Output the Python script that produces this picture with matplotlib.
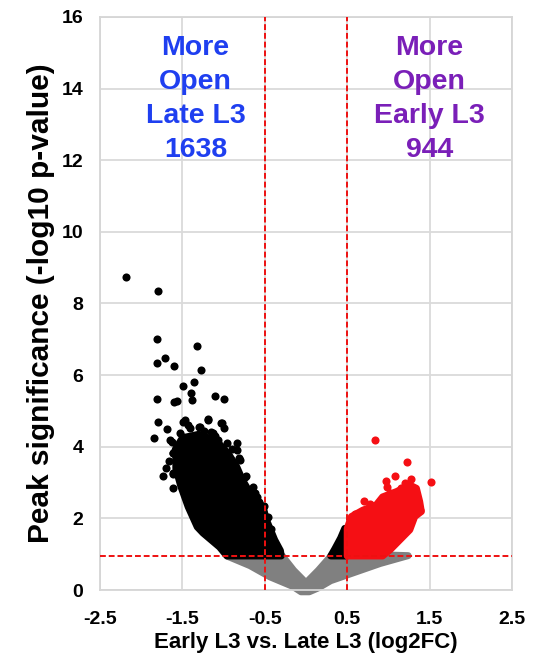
import matplotlib
matplotlib.use("Agg")
from matplotlib import pyplot as plt
from matplotlib.patches import Polygon

plt.rcParams['font.family'] = ['Liberation Sans', 'DejaVu Sans']
plt.rcParams['font.weight'] = 'bold'

# thresholds drawn as red dashed lines
fc_cut = [-0.5, 0.5]
sig_cut = 0.94

# outline of the dense grey (non significant) cloud
grey_x = [-0.95, -0.68, -0.44, -0.16, -0.06, 0.04, 0.15, 0.30, 0.60, 0.90,
          1.24, 0.33, 0.15, 0.0, -0.15, -0.29]
grey_y = [0.94, 0.68, 0.37, 0.10, -0.05, -0.05, 0.06, 0.26, 0.50, 0.74,
          0.96, 1.02, 0.55, 0.20, 0.55, 0.96]

# outline of the dense black cloud (more open late L3)
black_x = [-0.96, -1.05, -1.25, -1.32, -1.43, -1.52, -1.58, -1.58, -1.50,
           -1.30, -1.08, -0.94, -0.84, -0.77, -0.65, -0.52, -0.48, -0.38,
           -0.31, -0.30]
black_y = [0.95, 1.20, 1.59, 1.76, 2.32, 2.90, 3.40, 3.95, 4.25,
           4.35, 4.15, 3.80, 3.44, 3.07, 2.60, 2.32, 1.96, 1.40,
           1.10, 0.95]

# small black group just left of +0.5
black2_x = [0.30, 0.35, 0.42, 0.47, 0.50, 0.50]
black2_y = [0.95, 1.15, 1.45, 1.72, 1.72, 0.95]

# outline of the dense red cloud (more open early L3)
red_x = [0.50, 0.50, 0.55, 0.69, 0.85, 0.93, 1.10, 1.26, 1.34, 1.38,
         1.40, 1.32, 1.26, 1.02, 0.93]
red_y = [0.95, 1.72, 2.05, 2.23, 2.37, 2.60, 2.75, 2.93, 2.84, 2.47,
         2.19, 2.05, 1.68, 1.12, 0.95]

# single black points outside the dense cloud
pts_black_x = [-2.19, -1.79, -1.81, -1.32, -1.71, -1.81, -1.60, -1.28, -1.49,
               -1.36, -1.39, -1.38, -1.60, -1.56, -1.81, -1.11, -1.00, -1.79,
               -1.85, -1.69, -1.73, -1.62, -1.63, -1.62, -1.49, -1.43, -1.29,
               -1.19, -1.02, -1.00, -0.84, -1.61, -1.61, -0.80, -0.73, -1.17,
               -1.49, -1.35, -1.13, -1.07, -1.53, -1.29, -1.05, -0.92, -0.51,
               -0.46, -0.43, -0.36, -0.62, -0.57,
               -1.47, -1.19, -1.03, -1.30, -1.41, -1.15, -1.53, -1.65, -0.96,
               -0.84, -0.81, -1.59, -1.53, -1.61, -0.74, -0.64, -0.60, -1.24,
               -1.38, -1.10, -0.90, -1.66, -1.70]
pts_black_y = [8.73, 8.35, 7.00, 6.82, 6.49, 6.33, 6.26, 6.15, 5.71,
               5.82, 5.51, 5.30, 5.24, 5.28, 5.34, 5.43, 5.34, 4.68,
               4.24, 4.50, 3.18, 2.85, 4.14, 3.82, 4.70, 4.61, 4.56,
               4.75, 4.66, 4.52, 4.10, 3.24, 3.82, 3.63, 3.18, 3.91,
               4.28, 4.24, 4.38, 4.19, 3.49, 3.54, 3.63, 3.35, 2.35,
               2.05, 1.70, 1.16, 2.70, 2.45,
               4.75, 4.77, 4.67, 4.54, 4.52, 4.42, 4.38, 4.19, 4.10,
               3.91, 3.68, 3.91, 3.54, 3.26, 3.16, 2.89, 2.61, 4.45,
               4.05, 4.30, 3.95, 3.60, 3.40]

# single red points outside the dense cloud
pts_red_x = [0.84, 1.23, 1.52, 1.08, 1.27, 0.97, 0.98, 0.70, 0.91, 1.20,
             1.30, 0.60, 0.78, 1.36, 1.38, 1.10, 0.89, 0.77, 0.65, 0.53,
             1.15, 1.02]
pts_red_y = [4.19, 3.58, 3.02, 3.19, 3.09, 3.03, 2.89, 2.49, 2.49, 2.98,
             2.72, 2.12, 2.40, 2.47, 2.23, 2.61, 2.43, 2.23, 2.05, 1.96,
             2.85, 2.70]

left_label = "More\nOpen\nLate L3\n1638"
right_label = "More\nOpen\nEarly L3\n944"

fig = plt.figure(figsize=(5.33, 6.56), dpi=100)
ax = fig.add_axes([0.1876, 0.1006, 0.7730, 0.8735])

ax.set_xlim(-2.5, 2.5)
ax.set_ylim(0, 16)
ax.set_xticks([-2.5, -1.5, -0.5, 0.5, 1.5, 2.5])
ax.set_xticklabels(['-2.5', '-1.5', '-0.5', '0.5', '1.5', '2.5'])
ax.set_yticks(range(0, 17, 2))
ax.tick_params(length=0, labelsize=14)
ax.tick_params(axis='y', pad=12)
ax.tick_params(axis='x', pad=15)
ax.grid(True, color='#dadada', lw=1.3, zorder=0)
ax.set_axisbelow(True)
for sp in ax.spines.values():
    sp.set_color('#d6d6d6')
    sp.set_linewidth(1.3)

# dense clouds as filled outlines, loose points as dots
for xs, ys, c in [(grey_x, grey_y, '#808080'), (black_x, black_y, 'black'),
                  (black2_x, black2_y, 'black'), (red_x, red_y, '#f50f14')]:
    poly = Polygon(list(zip(xs, ys)), closed=True, facecolor=c, edgecolor=c,
                   lw=5, joinstyle='round', zorder=2, clip_on=False)
    ax.add_patch(poly)
ax.scatter(pts_black_x, pts_black_y, s=34, c='black', lw=0, zorder=3)
ax.scatter(pts_red_x, pts_red_y, s=34, c='#f50f14', lw=0, zorder=3)

for v in fc_cut:
    ax.axvline(v, color='#ee1111', ls=(0, (3, 1.5)), lw=1.4, zorder=4)
ax.axhline(sig_cut, color='#ee1111', ls=(0, (3, 1.5)), lw=1.4, zorder=4)

ax.text(-1.34, 15.5, left_label, color='#1f3ff0', fontsize=20.5,
        fontweight='bold', ha='center', va='top', linespacing=1.4)
ax.text(1.5, 15.5, right_label, color='#7a1fb8', fontsize=20.5,
        fontweight='bold', ha='center', va='top', linespacing=1.4)

ax.set_xlabel('Early L3 vs. Late L3 (log2FC)', fontsize=16,
              fontweight='bold', labelpad=3)
ax.set_ylabel('Peak significance (-log10 p-value)', fontsize=21.5,
              fontweight='bold', labelpad=5)

fig.savefig('out.png', dpi=100)
